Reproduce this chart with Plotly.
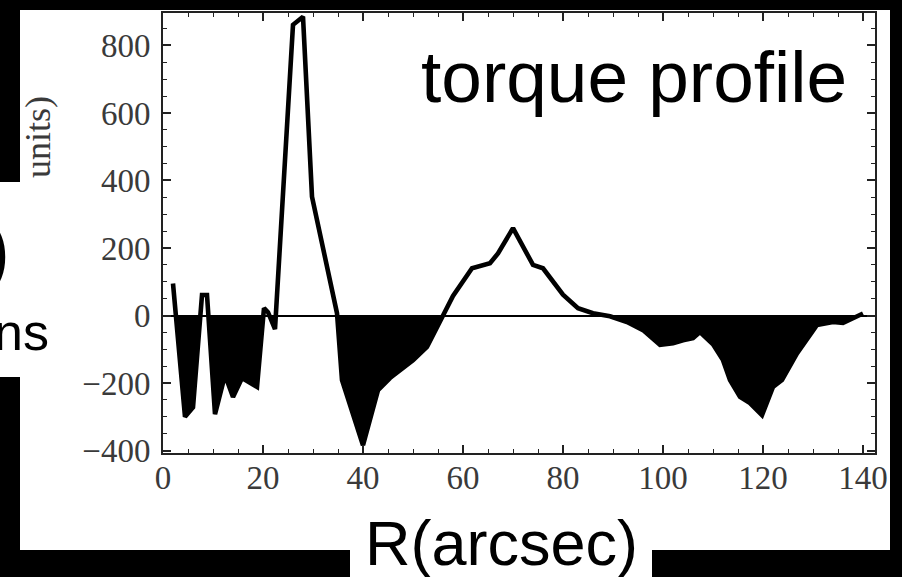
import plotly.graph_objects as go

# ---- data (R in arcsec, torque in arbitrary units) ----
r_arcsec = [2.0, 4.4, 6.0, 7.8, 8.8, 10.4, 12.4, 14.0, 15.8, 17.0, 18.8, 20.2, 21.0, 22.4,
            26.0, 28.0, 29.8, 34.8, 35.8, 40.0, 43.0, 45.4, 50.0, 52.8, 58.0, 61.8, 65.4,
            67.0, 70.0, 74.0, 76.0, 80.0, 83.0, 86.0, 89.4, 92.8, 96.0, 99.4, 102.0, 104.0,
            106.0, 107.4, 110.0, 112.0, 113.4, 115.4, 117.4, 119.8, 121.0, 122.0, 123.8,
            126.8, 130.8, 134.0, 136.0, 139.4, 140.0]
torque = [95, -300, -272, 61, 61, -292, -176, -241, -185, -197, -211, 22, 10, -40,
          861, 885, 352, 7, -191, -384, -221, -185, -132, -93, 58, 140, 155,
          184, 259, 150, 140, 62, 22, 7, -2, -19, -43, -87, -82, -73,
          -67, -49, -85, -132, -191, -241, -259, -295, -250, -211, -191,
          -112, -28, -19, -22, 0, 6]

x_ticks = [0, 20, 40, 60, 80, 100, 120, 140]
y_ticks = [-400, -200, 0, 200, 400, 600, 800]

# ---- negative part (filled to the axis), with zero crossings inserted ----
neg_x, neg_y = [], []
for i in range(len(r_arcsec)):
    if i > 0:
        y0, y1 = torque[i - 1], torque[i]
        if (y0 < 0) != (y1 < 0) and y0 != y1:
            x0, x1 = r_arcsec[i - 1], r_arcsec[i]
            neg_x.append(x0 + (x1 - x0) * (0 - y0) / (y1 - y0))
            neg_y.append(0)
    neg_x.append(r_arcsec[i])
    neg_y.append(min(torque[i], 0))

# ---- layout geometry (pixels of the 902x577 canvas) ----
W, H = 902, 577
L, R, T, B = 163, 875, 13, 453


def px(x):
    return (x - L) / (R - L)


def py(y):
    return (B - y) / (B - T)


fig = go.Figure()
fig.add_trace(go.Scatter(x=neg_x, y=neg_y, mode="lines", fill="tozeroy",
                         fillcolor="black", line=dict(width=1, color="black"),
                         hoverinfo="skip", showlegend=False))
fig.add_trace(go.Scatter(x=r_arcsec, y=torque, mode="lines",
                         line=dict(width=4.6, color="black"), showlegend=False))

white_boxes = [(20, 10, 890, 550), (0, 182, 20, 377), (350, 550, 652, 577)]
shapes = []
for (x0, y0, x1, y1) in white_boxes:
    shapes.append(dict(type="rect", xref="paper", yref="paper", x0=px(x0), x1=px(x1),
                       y0=py(y1), y1=py(y0), fillcolor="white", line=dict(width=0),
                       layer="below"))

tick_font = dict(family="Liberation Serif", size=33, color="#3a3a3a")
axis_common = dict(showline=True, linecolor="#222", linewidth=2, mirror="allticks",
                   ticks="inside", ticklen=8, tickwidth=1.6, tickcolor="#222",
                   showgrid=False, tickfont=tick_font)

fig.update_layout(
    width=W, height=H, autosize=False,
    margin=dict(l=L, r=W - R, t=T, b=H - B, pad=0),
    paper_bgcolor="black", plot_bgcolor="white",
    shapes=shapes,
    xaxis=dict(range=[0, 142.4], tickvals=x_ticks, zeroline=False,
               ticklabelstandoff=-6,
               minor=dict(dtick=5, ticklen=4, tickwidth=1.2, tickcolor="#222", ticks="inside"),
               **axis_common),
    yaxis=dict(range=[-407, 896], tickvals=y_ticks, zeroline=True, zerolinecolor="black",
               zerolinewidth=1.5, ticklabelstandoff=4,
               minor=dict(dtick=50, ticklen=4, tickwidth=1.2, tickcolor="#222", ticks="inside"),
               **axis_common),
    annotations=[
        dict(text="torque profile", xref="paper", yref="paper", x=px(634), y=py(76),
             xanchor="center", yanchor="middle", showarrow=False,
             font=dict(family="Liberation Sans", size=73, color="black")),
        dict(text="R(arcsec)", xref="paper", yref="paper", x=px(501), y=py(543),
             xanchor="center", yanchor="middle", showarrow=False,
             font=dict(family="Liberation Sans", size=63, color="black")),
        dict(text="ns", xref="paper", yref="paper", x=px(51), y=py(332),
             xanchor="right", yanchor="middle", showarrow=False,
             font=dict(family="Liberation Sans", size=52, color="black")),
        dict(text=")", xref="paper", yref="paper", x=px(12), y=py(250),
             xanchor="right", yanchor="middle", showarrow=False,
             font=dict(family="Liberation Sans", size=82, color="black")),
        dict(text="units)", xref="paper", yref="paper", x=px(38), y=py(137),
             xanchor="center", yanchor="middle", showarrow=False, textangle=-90,
             font=dict(family="Liberation Serif", size=36, color="#3a3a3a")),
    ],
)

fig.write_html("out.html", config={"displayModeBar": False},
               post_script="document.body.style.margin='0';"
                           "document.body.style.overflow='hidden';")
